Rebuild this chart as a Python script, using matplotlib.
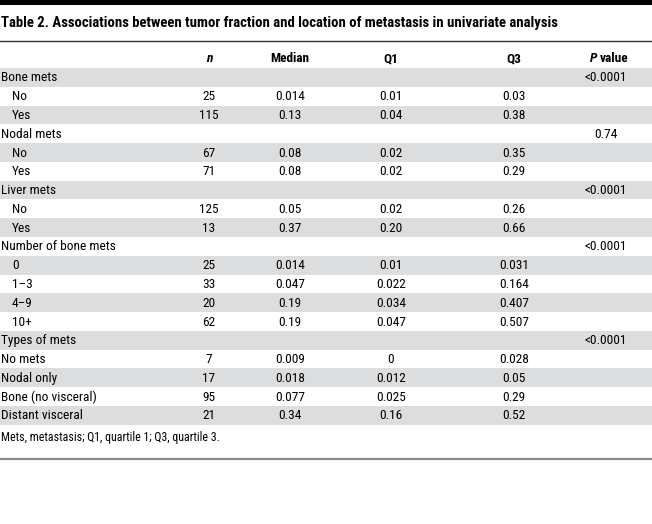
import matplotlib
matplotlib.use("Agg")
import matplotlib.pyplot as plt
from matplotlib import font_manager as fm
from matplotlib.patches import Rectangle

names = {f.name for f in fm.fontManager.ttflist}
cands = ["DejaVu Sans Condensed", "Liberation Sans Narrow", "Roboto Condensed", "Open Sans Condensed", "Roboto"]
FAM = next((c for c in cands if c in names), "DejaVu Sans")

title = "Table 2. Associations between tumor fraction and location of metastasis in univariate analysis"
columns = ["n", "Median", "Q1", "Q3", "P value"]
labels = ["Bone mets", "No", "Yes", "Nodal mets", "No", "Yes", "Liver mets", "No", "Yes",
          "Number of bone mets", "0", "1\u20133", "4\u20139", "10+",
          "Types of mets", "No mets", "Nodal only", "Bone (no visceral)", "Distant visceral"]
indented = [False, True, True, False, True, True, False, True, True,
            False, True, True, True, True,
            False, False, False, False, False]
n_vals = ["", "25", "115", "", "67", "71", "", "125", "13",
          "", "25", "33", "20", "62", "", "7", "17", "95", "21"]
median_vals = ["", "0.014", "0.13", "", "0.08", "0.08", "", "0.05", "0.37",
               "", "0.014", "0.047", "0.19", "0.19", "", "0.009", "0.018", "0.077", "0.34"]
q1_vals = ["", "0.01", "0.04", "", "0.02", "0.02", "", "0.02", "0.20",
           "", "0.01", "0.022", "0.034", "0.047", "", "0", "0.012", "0.025", "0.16"]
q3_vals = ["", "0.03", "0.38", "", "0.35", "0.29", "", "0.26", "0.66",
           "", "0.031", "0.164", "0.407", "0.507", "", "0.028", "0.05", "0.29", "0.52"]
p_vals = ["<0.0001", "", "", "0.74", "", "", "<0.0001", "", "",
          "<0.0001", "", "", "", "", "<0.0001", "", "", "", ""]
footnote = "Mets, metastasis; Q1, quartile 1; Q3, quartile 3."

W, H = 652, 524
fig = plt.figure(figsize=(W / 100, H / 100), dpi=100)
ax = fig.add_axes([0, 0, 1, 1])
ax.set_xlim(0, W)
ax.set_ylim(H, 0)
ax.axis("off")

FS = 9.6
col_x = [209, 290, 391, 514, 606]
row_top = 68.0
row_h = 18.78
band = "#dcddde"

ax.add_patch(Rectangle((0, 0), W, 4.5, color="black", lw=0))
ax.text(1, 22.5, title, fontsize=10.6, fontweight="bold", family=FAM, va="center", ha="left")
ax.plot([0, W], [40.5, 40.5], color="#333333", lw=1.0)

for j, c in enumerate(columns):
    if c == "n":
        ax.text(col_x[j], 59, "n", fontsize=FS, fontweight="bold", style="italic", family=FAM,
                ha="center", va="center")
    elif c == "P value":
        ax.text(col_x[j] - 9, 59, "P", fontsize=FS, fontweight="bold", style="italic",
                family=FAM, ha="right", va="center")
        ax.text(col_x[j] - 6, 59, "value", fontsize=FS, fontweight="bold", family=FAM,
                ha="left", va="center")
    else:
        ax.text(col_x[j], 59, c, fontsize=FS, fontweight="bold", family=FAM, ha="center", va="center")

cols = [n_vals, median_vals, q1_vals, q3_vals, p_vals]
for i, lab in enumerate(labels):
    y0 = row_top + i * row_h
    if i % 2 == 0:
        ax.add_patch(Rectangle((0, y0), W, row_h, color=band, lw=0))
    yc = y0 + row_h / 2 + 0.5
    ax.text(12 if indented[i] else 1, yc, lab, fontsize=FS, family=FAM, ha="left", va="center")
    for j, vals in enumerate(cols):
        if vals[i]:
            ax.text(col_x[j], yc, vals[i], fontsize=FS, family=FAM, ha="center", va="center")

ax.text(1, 437.5, footnote, fontsize=8.6, family=FAM, ha="left", va="center")
ax.plot([0, W], [458.5, 458.5], color="#8a8a8a", lw=1.6)

fig.savefig("out.png", dpi=100)
